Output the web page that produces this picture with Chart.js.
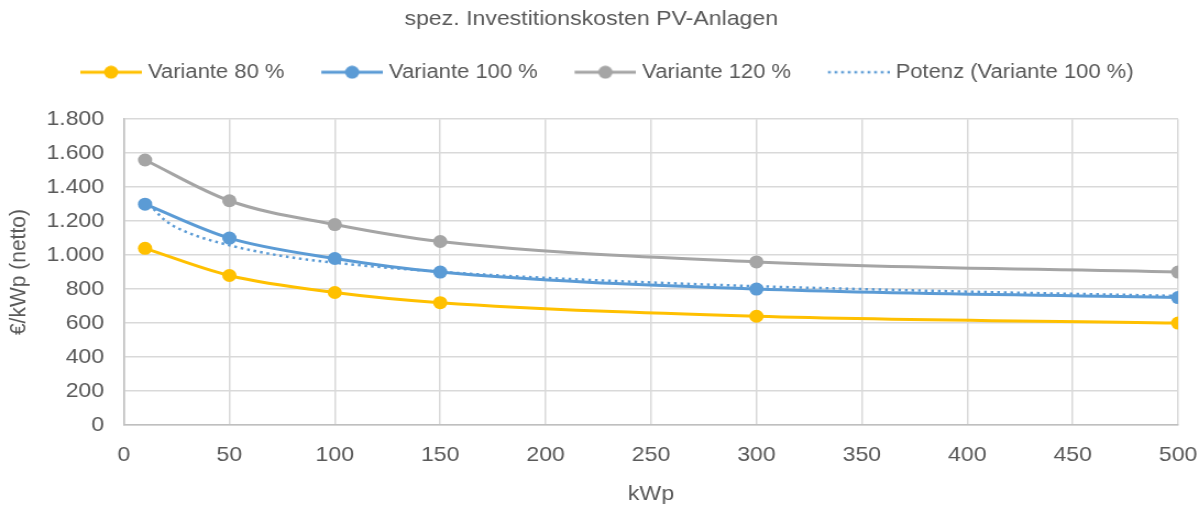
<!DOCTYPE html>
<html>
<head>
<meta charset="utf-8">
<title>spez. Investitionskosten PV-Anlagen</title>
<script src="https://cdn.jsdelivr.net/npm/chart.js@4/dist/chart.umd.min.js"></script>
<style>
  html, body { margin: 0; padding: 0; background: #fff; overflow: hidden; }
  /* Original wirkt horizontal leicht gestreckt */
  #wrap { width: 1090px; height: 518px; transform: scaleX(1.1); transform-origin: 0 0; }
</style>
</head>
<body>
<div id="wrap"><canvas id="chart" width="1090" height="518"></canvas></div>
<script>
// Daten
const xValues = [10, 50, 100, 150, 300, 500];
const variante80 = [1040, 880, 780, 720, 640, 600];
const variante100 = [1300, 1100, 980, 900, 800, 750];
const variante120 = [1560, 1320, 1180, 1080, 960, 900];
const trendX = [10, 20, 30, 50, 75, 100, 150, 200, 250, 300, 350, 400, 450, 500];
const trendY = [1325, 1200, 1134, 1058, 995, 955, 902, 866, 839, 817, 800, 785, 772, 760];
const xTicks = [0, 50, 100, 150, 200, 250, 300, 350, 400, 450, 500];
const yTicks = [0, 200, 400, 600, 800, 1000, 1200, 1400, 1600, 1800];

const textColor = '#595959';
const fontFamily = "'Liberation Sans', Arial, sans-serif";

function toPoints(xs, ys) {
  return xs.map((x, i) => ({ x: x, y: ys[i] }));
}

function fmt(v) {
  return String(v).replace(/\B(?=(\d{3})+(?!\d))/g, '.');
}

// kleine Legenden-Symbole: Linie mit Marker bzw. gepunktete Linie
// Bild ist breiter als die Box, damit der Abstand zum Text kleiner wird
function legendImg(color, marker, dotted) {
  const c = document.createElement('canvas');
  c.width = 61;
  c.height = 14;
  const g = c.getContext('2d');
  g.strokeStyle = color;
  g.lineWidth = dotted ? 2.5 : 3;
  if (dotted) g.setLineDash([2.5, 3.5]);
  g.beginPath();
  g.moveTo(5, 7);
  g.lineTo(61, 7);
  g.stroke();
  if (marker) {
    g.fillStyle = color;
    g.beginPath();
    g.arc(33, 7, 6.5, 0, Math.PI * 2);
    g.fill();
  }
  return c;
}

const series = [
  { label: 'Variante 80 %', data: toPoints(xValues, variante80), color: '#FFC000' },
  { label: 'Variante 100 %', data: toPoints(xValues, variante100), color: '#5B9BD5' },
  { label: 'Variante 120 %', data: toPoints(xValues, variante120), color: '#A5A5A5' }
];

const datasets = series.map(s => ({
  label: s.label,
  data: s.data,
  borderColor: s.color,
  backgroundColor: s.color,
  borderWidth: 3,
  pointRadius: 6.5,
  pointBorderWidth: 0,
  pointBackgroundColor: s.color,
  cubicInterpolationMode: 'monotone',
  fill: false
}));

datasets.push({
  label: 'Potenz (Variante 100 %)',
  data: toPoints(trendX, trendY),
  borderColor: '#5B9BD5',
  borderWidth: 2.5,
  borderDash: [2.5, 3.5],
  pointRadius: 0,
  cubicInterpolationMode: 'monotone',
  fill: false
});

const legendIcons = [
  legendImg('#FFC000', true, false),
  legendImg('#5B9BD5', true, false),
  legendImg('#A5A5A5', true, false),
  legendImg('#5B9BD5', false, true)
];

const LEGEND_GAP = 22;
const LEGEND_SHIFT_X = 14;
const LEGEND_SHIFT_Y = -5;

// Abstand unter der Legende und Verschiebung der Legende
const legendTweak = {
  id: 'legendTweak',
  beforeLayout(chart) {
    const lg = chart.legend;
    if (lg && !lg._patched) {
      const fit = lg.fit;
      lg.fit = function () {
        fit.call(this);
        this.height += LEGEND_GAP;
      };
      lg._patched = true;
    }
  },
  afterLayout(chart) {
    const lg = chart.legend;
    if (lg) {
      lg.left += LEGEND_SHIFT_X;
      lg.right += LEGEND_SHIFT_X;
      lg.top += LEGEND_SHIFT_Y;
      lg.bottom += LEGEND_SHIFT_Y;
    }
  }
};

new Chart(document.getElementById('chart').getContext('2d'), {
  type: 'line',
  data: { datasets: datasets },
  plugins: [legendTweak],
  options: {
    responsive: false,
    devicePixelRatio: 1,
    animation: false,
    layout: { padding: { left: 4, right: 19, top: 0, bottom: 11 } },
    plugins: {
      title: {
        display: true,
        text: 'spez. Investitionskosten PV-Anlagen',
        color: textColor,
        font: { family: fontFamily, size: 21, weight: 'normal' },
        padding: { top: 7, bottom: 2 }
      },
      legend: {
        position: 'top',
        labels: {
          usePointStyle: true,
          pointStyleWidth: 52,
          boxHeight: 14,
          padding: 33,
          color: textColor,
          font: { family: fontFamily, size: 20 },
          generateLabels: chart => chart.data.datasets.map((ds, i) => ({
            text: ds.label,
            pointStyle: legendIcons[i],
            fillStyle: ds.borderColor,
            strokeStyle: ds.borderColor,
            lineWidth: 0,
            hidden: false,
            datasetIndex: i,
            fontColor: textColor
          }))
        }
      },
      tooltip: { enabled: false }
    },
    scales: {
      x: {
        type: 'linear',
        min: 0,
        max: 500,
        afterBuildTicks: axis => { axis.ticks = xTicks.map(v => ({ value: v })); },
        afterFit: axis => {
          axis.height = 82;
          axis.paddingLeft = 0;
          axis.paddingRight = 0;
        },
        ticks: {
          color: textColor,
          font: { family: fontFamily, size: 21 },
          padding: 18,
          maxRotation: 0
        },
        grid: { color: '#D9D9D9', lineWidth: 1.5, drawTicks: false },
        border: { color: '#BFBFBF', width: 1.5 },
        title: {
          display: true,
          text: 'kWp',
          color: textColor,
          font: { family: fontFamily, size: 21 },
          padding: { top: 14, bottom: 0 }
        }
      },
      y: {
        min: 0,
        max: 1800,
        afterBuildTicks: axis => { axis.ticks = yTicks.map(v => ({ value: v })); },
        afterFit: axis => { axis.width = 108.7; },
        ticks: {
          color: textColor,
          font: { family: fontFamily, size: 21 },
          padding: 18,
          callback: v => fmt(v)
        },
        grid: { color: '#D9D9D9', lineWidth: 1.5, drawTicks: false },
        border: { color: '#BFBFBF', width: 1.5 },
        title: {
          display: true,
          text: '€/kWp (netto)',
          color: textColor,
          font: { family: fontFamily, size: 21 },
          padding: { top: 1, bottom: 8 }
        }
      }
    }
  }
});
</script>
</body>
</html>
